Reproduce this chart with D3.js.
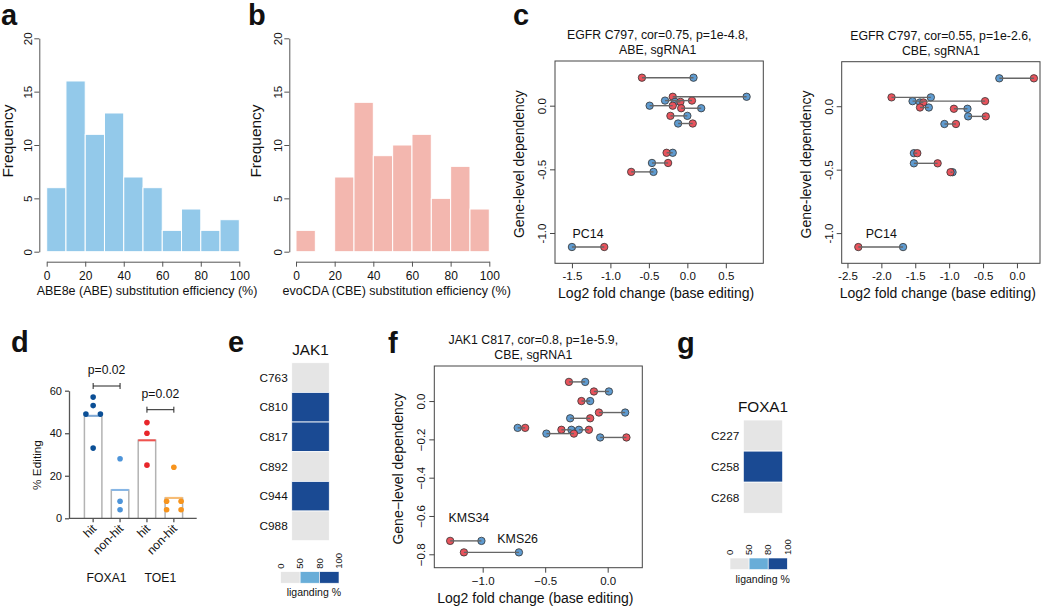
<!DOCTYPE html>
<html>
<head>
<meta charset="utf-8">
<script src="https://cdn.jsdelivr.net/npm/d3@7"></script>
<style>
  body { margin: 0; background: #fff; }
  text { font-family: "Liberation Sans", Arial, sans-serif; fill: #111; }
</style>
</head>
<body>
<div id="fig"></div>
<script>
// histogram data (a, b)
let binEdges = [0, 10, 20, 30, 40, 50, 60, 70, 80, 90, 100];
let abeCounts = [6, 16, 11, 13, 7, 6, 2, 4, 2, 3];
let cbeCounts = [2, 0, 7, 14, 9, 10, 11, 5, 8, 4];

// c left: EGFR C797 ABE
let egfrAbeDep  = [0.22, 0.07, 0.04, 0.03, 0.00, -0.02, -0.08, -0.14, -0.37, -0.45, -0.52, -1.11];
let egfrAbeRed  = [-0.59, -0.19, 0.06, -0.09, -0.19, -0.08, -0.22, 0.07, -0.27, -0.25, -0.73, -1.08];
let egfrAbeBlue = [0.08, 0.77, -0.29, -0.16, -0.49, 0.18, 0.00, -0.12, -0.19, -0.46, -0.44, -1.50];

// c right: EGFR C797 CBE
let egfrCbeDep  = [0.22, 0.07, 0.04, 0.03, -0.01, -0.02, -0.08, -0.14, -0.37, -0.45, -0.52, -1.11];
let egfrCbeRed  = [0.25, -1.85, -0.47, -1.38, -1.43, -0.93, -0.46, -0.90, -1.47, -1.17, -0.98, -2.34];
let egfrCbeBlue = [-0.26, -1.27, -1.54, -1.43, -1.30, -0.73, -0.72, -1.07, -1.52, -1.52, -0.95, -1.68];

// f: JAK1 C817 CBE
let jakDep  = [0.10, 0.05, 0.00, -0.06, -0.09, -0.14, -0.15, -0.15, -0.17, -0.19, -0.73, -0.79];
let jakRed  = [-0.31, -0.11, -0.21, -0.07, -0.14, -0.66, -0.37, -0.15, -0.27, 0.15, -1.26, -1.15];
let jakBlue = [-0.18, 0.01, -0.14, 0.14, -0.30, -0.72, -0.29, -0.23, -0.49, -0.06, -1.01, -0.71];

// d: % editing
let dGroups = ["hit", "non-hit", "hit", "non-hit"];
let dGenes = ["FOXA1", "TOE1"];
let foxaHit = [57, 53, 49, 49, 33];
let foxaNonHit = [28, 8, 4];
let toeHit = [45, 40, 25];
let toeNonHit = [24, 8, 8, 4, 4];
let dPvals = ["p=0.02", "p=0.02"];

// e, g: liganding heatmaps
let jakSites = ["C763", "C810", "C817", "C892", "C944", "C988"];
let jakLig = [30, 100, 100, 30, 100, 30];
let foxaSites = ["C227", "C258", "C268"];
let foxaLig = [30, 100, 30];
let ligBreaks = [0, 50, 80, 100];

const W = 1050, H = 610;
const svg = d3.select("#fig").append("svg")
  .attr("width", W).attr("height", H)
  .attr("viewBox", [0, 0, W, H]);

const axisCol = "#555";
const redCol = "#E8535C", blueCol = "#5F9BD0";

function letter(t, x, y) {
  svg.append("text").attr("x", x).attr("y", y)
    .attr("font-size", 29).attr("font-weight", "bold").text(t);
}

// ---------- histograms ----------
function histogram(counts, opt) {
  let x = d3.scaleLinear().domain([0, 100]).range(opt.xr);
  let y = d3.scaleLinear().domain([0, 20]).range([251.7, 38.3]);
  let g = svg.append("g");
  g.selectAll("rect").data(counts).join("rect")
    .attr("x", (d, i) => x(binEdges[i]))
    .attr("width", (d, i) => x(binEdges[i + 1]) - x(binEdges[i]))
    .attr("y", d => y(d))
    .attr("height", d => y(0) - y(d))
    .attr("fill", opt.fill)
    .attr("stroke", "#fff").attr("stroke-width", 1)
    .attr("visibility", d => d > 0 ? "visible" : "hidden");

  let ya = g.append("g").attr("transform", `translate(${opt.yAxisX},0)`)
    .call(d3.axisLeft(y).tickValues([0, 5, 10, 15, 20]).tickSize(5).tickSizeOuter(0).tickFormat(d3.format("d")));
  ya.selectAll("text").attr("transform", "rotate(-90)").attr("x", 0).attr("y", -7.5)
    .attr("text-anchor", "middle").attr("dy", 0).attr("font-size", 11.5);
  let xa = g.append("g").attr("transform", "translate(0,261.7)")
    .call(d3.axisBottom(x).tickValues([0, 20, 40, 60, 80, 100]).tickSize(5).tickSizeOuter(0));
  xa.selectAll("text").attr("font-size", 12).attr("y", 9.5);
  [ya, xa].forEach(a => {
    a.selectAll("path,line").attr("stroke", axisCol);
    a.selectAll("text").attr("font-family", "Liberation Sans, Arial").attr("fill", "#111");
  });

  g.append("text").attr("transform", `translate(${opt.ylabX},141) rotate(-90)`)
    .attr("text-anchor", "middle").attr("font-size", 15.5).text("Frequency");
  g.append("text").attr("x", (opt.xr[0] + opt.xr[1]) / 2 + 4).attr("y", 295)
    .attr("text-anchor", "middle").attr("font-size", 12.5).text(opt.title);
}

histogram(abeCounts, { xr: [46.7, 239.3], yAxisX: 39.3, ylabX: 12.5, fill: "#93C9EA",
  title: "ABE8e (ABE) substitution efficiency (%)" });
histogram(cbeCounts, { xr: [296, 489.3], yAxisX: 289.3, ylabX: 260.5, fill: "#F3B7AF",
  title: "evoCDA (CBE) substitution efficiency (%)" });

// ---------- dumbbell scatter panels ----------
function dumbbell(dep, red, blue, o) {
  let x = d3.scaleLinear().domain(o.xd).range([o.box[0], o.box[1]]);
  let y = d3.scaleLinear().domain(o.yd).range([o.box[3], o.box[2]]);
  let g = svg.append("g");
  g.append("rect").attr("x", o.box[0]).attr("y", o.box[2])
    .attr("width", o.box[1] - o.box[0]).attr("height", o.box[3] - o.box[2])
    .attr("fill", "none").attr("stroke", "#444").attr("stroke-width", 1);

  let xa = g.append("g").attr("transform", `translate(0,${o.box[3]})`)
    .call(d3.axisBottom(x).tickValues(o.xt).tickSize(5).tickFormat(o.fmt));
  xa.select(".domain").remove();
  xa.selectAll("text").attr("font-size", 11.5).attr("y", 9);
  let ya = g.append("g").attr("transform", `translate(${o.box[0]},0)`)
    .call(d3.axisLeft(y).tickValues(o.yt).tickSize(5).tickFormat(o.fmt));
  ya.select(".domain").remove();
  ya.selectAll("text").attr("transform", "rotate(-90)").attr("x", 0).attr("y", -9)
    .attr("text-anchor", "middle").attr("dy", 0).attr("font-size", 11.5);
  [xa, ya].forEach(a => {
    a.selectAll("line").attr("stroke", "#444");
    a.selectAll("text").attr("font-family", "Liberation Sans, Arial").attr("fill", "#111");
  });

  let rows = dep.map((d, i) => ({ dep: d, r: red[i], b: blue[i] }));
  rows.forEach(d => {
    [["b", blueCol], ["r", redCol]].forEach(([k, c]) => {
      g.append("circle").attr("cx", x(d[k])).attr("cy", y(d.dep)).attr("r", 3.7)
        .attr("fill", c).attr("stroke", "#333").attr("stroke-width", 0.8);
    });
  });
  // segments sit on top of the points, as in the original
  g.selectAll(".seg").data(rows).join("line")
    .attr("x1", d => x(d.r)).attr("x2", d => x(d.b))
    .attr("y1", d => y(d.dep)).attr("y2", d => y(d.dep))
    .attr("stroke", "#666").attr("stroke-width", 1.4);

  let cx = (o.box[0] + o.box[1]) / 2 + (o.tdx || 0);
  o.title.forEach((t, i) => g.append("text").attr("x", cx).attr("y", o.box[2] - 22 + i * 15)
    .attr("text-anchor", "middle").attr("font-size", 12.3).text(t));
  g.append("text").attr("x", (o.box[0] + o.box[1]) / 2 - 3).attr("y", o.box[3] + 35)
    .attr("text-anchor", "middle").attr("font-size", 14).text("Log2 fold change (base editing)");
  g.append("text").attr("transform", `translate(${o.box[0] - 31},${(o.box[2] + o.box[3]) / 2 + 2}) rotate(-90)`)
    .attr("text-anchor", "middle").attr("font-size", 14).text(o.ylab);
  o.labels.forEach(l => g.append("text").attr("x", x(l[1])).attr("y", y(l[2]))
    .attr("text-anchor", "middle").attr("font-size", 12.4).text(l[0]));
  return g;
}

const fmtHy = d => d3.format(".1f")(d).replace("−", "-");
dumbbell(egfrAbeDep, egfrAbeRed, egfrAbeBlue, {
  box: [555, 763.3, 61, 263.3], xd: [-1.72, 0.987], yd: [-1.238, 0.351],
  xt: [-1.5, -1.0, -0.5, 0.0, 0.5], yt: [-1.0, -0.5, 0.0], fmt: fmtHy,
  title: ["EGFR C797, cor=0.75, p=1e-4.8,", "ABE,  sgRNA1"], tdx: -1.5,
  ylab: "Gene-level dependency", labels: [["PC14", -1.29, -1.04]]
});
dumbbell(egfrCbeDep, egfrCbeRed, egfrCbeBlue, {
  box: [841.7, 1040, 61.7, 263.3], xd: [-2.585, 0.34], yd: [-1.238, 0.351],
  xt: [-2.5, -2.0, -1.5, -1.0, -0.5, 0.0], yt: [-1.0, -0.5, 0.0], fmt: fmtHy,
  title: ["EGFR C797, cor=0.55, p=1e-2.6,", "CBE,  sgRNA1"],
  ylab: "Gene-level dependency", labels: [["PC14", -2.0, -1.04]]
});
dumbbell(jakDep, jakRed, jakBlue, {
  box: [434.3, 642.3, 366, 567.7], xd: [-1.387, 0.277], yd: [-0.87, 0.183],
  xt: [-1.0, -0.5, 0.0], yt: [-0.8, -0.6, -0.4, -0.2, 0.0], fmt: d3.format(".1f"),
  title: ["JAK1 C817, cor=0.8, p=1e-5.9,", "CBE,  sgRNA1"], tdx: -5,
  ylab: "Gene\u2212level dependency", labels: [["KMS34", -1.11, -0.63], ["KMS26", -0.72, -0.74]]
});

// ---------- d: % editing ----------
(function () {
  let sets = [foxaHit, foxaNonHit, toeHit, toeNonHit];
  let cols = ["#0B4F96", "#4D94D9", "#E8262A", "#F7941D"];
  let tops = ["#7FA9D6", "#86B6E6", "#F0534F", "#F9BC72"];
  let x = d3.scaleBand().domain(d3.range(4)).range([75, 192]).padding(0.35);
  let y = d3.scaleLinear().domain([0, 60]).range([518.3, 390.7]);
  let g = svg.append("g");

  sets.forEach((vals, i) => {
    let m = d3.mean(vals);
    let bx = x(i), bw = x.bandwidth();
    g.append("path").attr("d", `M${bx},${y(0)}V${y(m)}H${bx + bw}V${y(0)}`)
      .attr("fill", "none").attr("stroke", "#b3b3b3").attr("stroke-width", 1.5);
    g.append("line").attr("x1", bx).attr("x2", bx + bw).attr("y1", y(m)).attr("y2", y(m))
      .attr("stroke", tops[i]).attr("stroke-width", 2);
    let seen = {};
    let counts = d3.rollup(vals, v => v.length, v => v);
    vals.forEach(v => {
      let n = counts.get(v), k = seen[v] = (seen[v] || 0) + 1;
      let off = (k - 1 - (n - 1) / 2) * 14.5;
      g.append("circle").attr("cx", bx + bw / 2 + off).attr("cy", y(v)).attr("r", 2.8)
        .attr("fill", cols[i]);
    });
  });

  let ya = g.append("g").attr("transform", "translate(69,0)")
    .call(d3.axisLeft(y).tickValues([0, 20, 40, 60]).tickSize(4).tickSizeOuter(0));
  ya.selectAll("text").attr("font-size", 11);
  g.append("line").attr("x1", 69).attr("x2", 196.7).attr("y1", y(0)).attr("y2", y(0))
    .attr("stroke", axisCol).attr("stroke-width", 1.3);
  ya.selectAll("path,line").attr("stroke", axisCol).attr("stroke-width", 1.3);
  ya.selectAll("text").attr("font-family", "Liberation Sans, Arial").attr("fill", "#111");

  dGroups.forEach((t, i) => {
    let cx = x(i) + x.bandwidth() / 2;
    g.append("line").attr("x1", cx).attr("x2", cx).attr("y1", y(0)).attr("y2", y(0) + 4)
      .attr("stroke", axisCol).attr("stroke-width", 1.3);
    g.append("text").attr("transform", `translate(${cx + 4},${y(0) + 11}) rotate(-45)`)
      .attr("text-anchor", "end").attr("font-size", 12).text(t);
  });
  dGenes.forEach((t, j) => {
    let cx = (x(2 * j) + x(2 * j + 1) + x.bandwidth()) / 2;
    g.append("text").attr("x", cx).attr("y", 581.5).attr("text-anchor", "middle")
      .attr("font-size", 12.2).text(t);
  });
  let brY = [386, 409.7];
  dPvals.forEach((p, j) => {
    let x1 = x(2 * j) + x.bandwidth() / 2, x2 = x(2 * j + 1) + x.bandwidth() / 2;
    g.append("path").attr("d", `M${x1},${brY[j] - 3}V${brY[j] + 3}M${x1},${brY[j]}H${x2}M${x2},${brY[j] - 3}V${brY[j] + 3}`)
      .attr("stroke", "#222").attr("fill", "none").attr("stroke-width", 1);
    g.append("text").attr("x", (x1 + x2) / 2).attr("y", brY[j] - 12).attr("text-anchor", "middle")
      .attr("font-size", 12.2).text(p);
  });
  g.append("text").attr("transform", "translate(41,465) rotate(-90)")
    .attr("text-anchor", "middle").attr("font-size", 11.8).text("% Editing");
})();

// ---------- e, g: heatmaps ----------
let ligColor = d3.scaleThreshold().domain([50, 80]).range(["#E5E5E5", "#68ADD8", "#1A4A93"]);

function heatmap(sites, vals, o) {
  let g = svg.append("g");
  let y = d3.scaleBand().domain(sites).range([o.y0, o.y1]);
  g.selectAll("rect").data(sites).join("rect")
    .attr("x", o.x0).attr("width", o.x1 - o.x0)
    .attr("y", d => y(d)).attr("height", y.bandwidth())
    .attr("fill", (d, i) => ligColor(vals[i])).attr("stroke", "#fff").attr("stroke-width", 0.8);
  g.selectAll(".lab").data(sites).join("text")
    .attr("x", o.x0 - 4).attr("y", d => y(d) + y.bandwidth() / 2 + 4.2)
    .attr("text-anchor", "end").attr("font-size", 11.8).text(d => d);
  g.append("text").attr("x", (o.x0 + o.x1) / 2).attr("y", o.y0 - 8)
    .attr("text-anchor", "middle").attr("font-size", 15.3).text(o.title);

  let lx = d3.scaleLinear().domain([0, 3]).range([o.lx0, o.lx1]);
  d3.range(3).forEach(i => g.append("rect").attr("x", lx(i)).attr("width", lx(i + 1) - lx(i))
    .attr("y", o.ly).attr("height", 11.5).attr("fill", ligColor(ligBreaks[i] + 1))
    .attr("stroke", "#fff").attr("stroke-width", 0.6));
  ligBreaks.forEach((b, i) => g.append("text")
    .attr("transform", `translate(${lx(i) + 3.2},${o.ly - 3}) rotate(-90)`)
    .attr("font-size", 9.5).text(b));
  g.append("text").attr("x", (o.lx0 + o.lx1) / 2 + 4).attr("y", o.ly + 24.5)
    .attr("text-anchor", "middle").attr("font-size", 10.5).text("liganding %");
}

heatmap(jakSites, jakLig, { x0: 291.7, x1: 329.3, y0: 362.7, y1: 540.7, title: "JAK1",
  lx0: 280.7, lx1: 339, ly: 571.7 });
heatmap(foxaSites, foxaLig, { x0: 743.3, x1: 782.7, y0: 420, y1: 513.3, title: "FOXA1",
  lx0: 730, lx1: 787.3, ly: 558 });

// panel letters
letter("a", 1, 25);
letter("b", 248, 25);
letter("c", 513, 25);
letter("d", 11, 352);
letter("e", 228, 352);
letter("f", 388, 353);
letter("g", 677, 353);
</script>
</body>
</html>
